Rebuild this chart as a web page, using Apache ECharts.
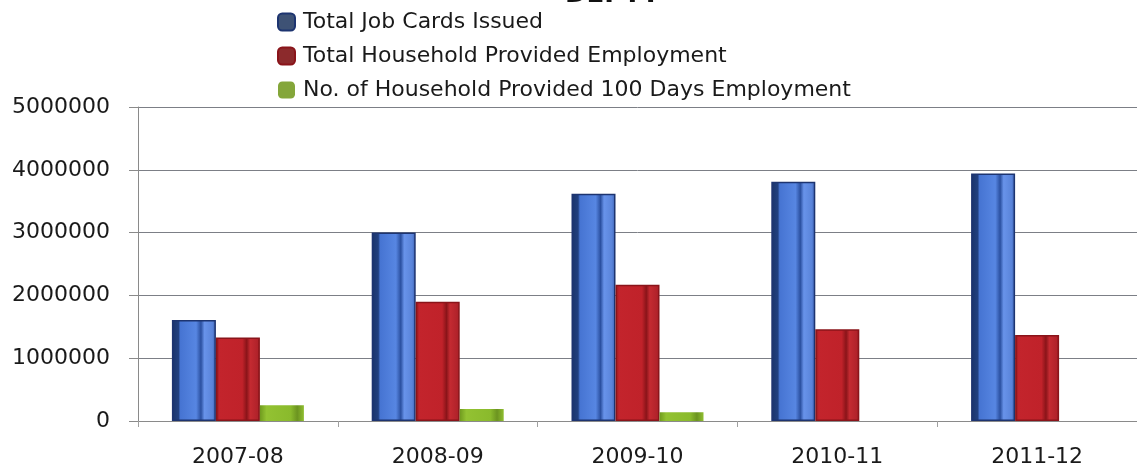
<!DOCTYPE html>
<html>
<head>
<meta charset="utf-8">
<script src="https://cdn.jsdelivr.net/npm/echarts@6/dist/echarts.min.js"></script>
<style>
  html, body { margin: 0; padding: 0; background: #ffffff; }
  #chart { width: 1137px; height: 468px; }
</style>
</head>
<body>
<div id="chart"></div>
<script>
// Years of the scheme
const categories = ['2007-08', '2008-09', '2009-10', '2010-11', '2011-12'];
// Series values (households / cards)
const jobCards = [1610000, 3000000, 3620000, 3810000, 3940000];
const employment = [1330000, 1900000, 2170000, 1460000, 1370000];
const days100 = [250000, 190000, 140000, 0, 0];
// Series names shown in the legend
const seriesNames = [
  'Total Job Cards Issued',
  'Total Household Provided Employment',
  'No. of Household Provided 100 Days Employment'
];
const yTicks = { min: 0, max: 5000000, interval: 1000000 };

const FONT = 'DejaVu Sans';

function hGrad(stops) {
  return new echarts.graphic.LinearGradient(0, 0, 1, 0,
    stops.map(s => ({ offset: s[0], color: s[1] })));
}

const blueFill = hGrad([
  [0, '#1a336a'], [0.15, '#21407f'], [0.19, '#4674d2'], [0.55, '#5786e2'],
  [0.66, '#2b50a0'], [0.74, '#6893ea'], [0.92, '#5a84da'], [1, '#3a5fae']
]);
const redFill = hGrad([
  [0, '#8e161c'], [0.08, '#c3242c'], [0.6, '#c0222a'], [0.7, '#8a1419'],
  [0.78, '#c42a31'], [0.95, '#b0222a'], [1, '#8a181d']
]);
const greenFill = hGrad([
  [0, '#6f9a1e'], [0.15, '#93c232'], [0.7, '#8aba2c'], [0.85, '#6c9420'], [1, '#8fbe30']
]);

const chart = echarts.init(document.getElementById('chart'), null, { renderer: 'canvas' });

const option = {
  animation: false,
  backgroundColor: '#ffffff',
  title: {
    text: 'DEPTT',
    left: 565,
    top: -18,
    padding: 0,
    textStyle: { fontFamily: FONT, fontWeight: 'bold', fontSize: 26, color: '#111111' }
  },
  legend: {
    orient: 'vertical',
    left: 272,
    top: 6,
    itemWidth: 17,
    itemHeight: 17,
    itemGap: 12,
    icon: 'roundRect',
    textStyle: { fontFamily: FONT, fontSize: 22, color: '#1a1a1a', lineHeight: 22, padding: [0, 0, 0, 3] },
    data: [
      { name: seriesNames[0], itemStyle: { color: '#3e5275' } },
      { name: seriesNames[1], itemStyle: { color: '#8c2a2c' } },
      { name: seriesNames[2], itemStyle: { color: '#84a63a' } }
    ]
  },
  grid: { left: 138, top: 107, width: 1008, height: 317, containLabel: false },
  xAxis: {
    type: 'category',
    data: categories,
    axisLine: { show: true, lineStyle: { color: '#8a8a8a', width: 1 } },
    axisTick: { show: true, alignWithLabel: false, length: 6, lineStyle: { color: '#a0a0a0' } },
    axisLabel: { fontFamily: FONT, fontSize: 22, color: '#1a1a1a', margin: 25 },
    splitLine: { show: false }
  },
  yAxis: {
    type: 'value',
    min: yTicks.min,
    max: yTicks.max,
    interval: yTicks.interval,
    axisLine: { show: true, lineStyle: { color: '#8a8a8a', width: 1 } },
    axisTick: { show: true, length: 9, lineStyle: { color: '#8a8a8a' } },
    axisLabel: {
      fontFamily: FONT, fontSize: 22, color: '#1a1a1a', margin: 28,
      formatter: v => String(v)
    },
    splitLine: { show: true, lineStyle: { color: '#7c7f86', width: 1 } }
  },
  series: [
    {
      name: seriesNames[0], type: 'bar', data: jobCards,
      barWidth: 44, barGap: '0%', barCategoryGap: '34%',
      itemStyle: { color: blueFill, borderColor: '#1d3470', borderWidth: 1.5 }
    },
    {
      name: seriesNames[1], type: 'bar', data: employment,
      barWidth: 44, barGap: '0%',
      itemStyle: { color: redFill, borderColor: '#8a141a', borderWidth: 1.5 }
    },
    {
      name: seriesNames[2], type: 'bar', data: days100,
      barWidth: 44, barGap: '0%',
      itemStyle: { color: greenFill, borderWidth: 0 }
    }
  ]
};

chart.setOption(option);
</script>
</body>
</html>
